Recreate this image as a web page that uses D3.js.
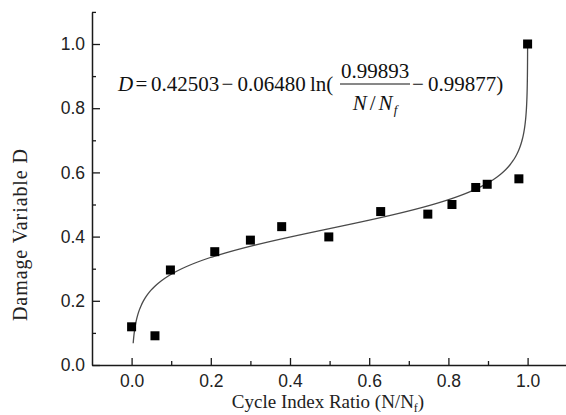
<!DOCTYPE html>
<html>
<head>
<meta charset="utf-8">
<script src="https://cdn.jsdelivr.net/npm/d3@7"></script>
<style>
  html, body { margin: 0; padding: 0; background: #fff; }
  svg { display: block; }
</style>
</head>
<body>
<svg id="chart" width="566" height="415"></svg>
<script>
// Measured cycle-ratio / damage pairs
const cycleRatio = [0.0, 0.059, 0.098, 0.21, 0.30, 0.379, 0.498, 0.629, 0.748, 0.809, 0.869, 0.898, 0.978, 1.0];
const damage     = [0.119, 0.091, 0.296, 0.353, 0.389, 0.431, 0.399, 0.478, 0.470, 0.500, 0.553, 0.563, 0.580, 1.0];

// Fitted model D = a - b * ln(c / (N/Nf) - d), coefficients as printed
const fitA = 0.42503;
const fitB = 0.06480;
const fitC = 0.99893;
const fitD = 0.99877;

const xMajorTicks = [0.0, 0.2, 0.4, 0.6, 0.8, 1.0];
const xMinorTicks = [0.1, 0.3, 0.5, 0.7, 0.9];
const yMajorTicks = [0.0, 0.2, 0.4, 0.6, 0.8, 1.0];
const yMinorTicks = [0.1, 0.3, 0.5, 0.7, 0.9, 1.1];

const svg = d3.select("#chart");
const plotLeft = 92, plotRight = 567.2, plotTop = 11.9, plotBottom = 365;

const x = d3.scaleLinear().domain([-0.1, 1.1]).range([plotLeft, plotRight]);
const y = d3.scaleLinear().domain([0, 1.1]).range([plotBottom, plotTop]);

const axisColor = "#1a1a1a";
const fmt = d3.format(".1f");

// X axis: minor ticks first, then labelled major ticks
const gxMinor = svg.append("g").attr("transform", `translate(0,${plotBottom})`)
  .call(d3.axisBottom(x).tickValues(xMinorTicks).tickSizeInner(-4).tickSizeOuter(0).tickFormat(""));
const gx = svg.append("g").attr("transform", `translate(0,${plotBottom})`)
  .call(d3.axisBottom(x).tickValues(xMajorTicks).tickSizeInner(-7).tickSizeOuter(0)
    .tickPadding(10).tickFormat(fmt));

const gyMinor = svg.append("g").attr("transform", `translate(${plotLeft},0)`)
  .call(d3.axisLeft(y).tickValues(yMinorTicks).tickSizeInner(-4).tickSizeOuter(0).tickFormat(""));
const gy = svg.append("g").attr("transform", `translate(${plotLeft},0)`)
  .call(d3.axisLeft(y).tickValues(yMajorTicks).tickSizeInner(-8).tickSizeOuter(0)
    .tickPadding(7).tickFormat(fmt));

[gxMinor, gx, gyMinor, gy].forEach(g => {
  g.selectAll("path.domain").attr("stroke", axisColor).attr("stroke-width", 1.5);
  g.selectAll(".tick line").attr("stroke", axisColor).attr("stroke-width", 1.3);
  g.selectAll(".tick text")
    .attr("fill", "#222")
    .style("font-family", "'Liberation Sans', Arial, sans-serif")
    .style("font-size", "17.5px");
});
gxMinor.selectAll("path.domain").remove();
gyMinor.selectAll("path.domain").remove();

// Fitted curve, traced by solving the model for N/Nf at each damage level
const dStart = fitA - fitB * Math.log(fitC / 0.004 - fitD);
const curveD = d3.range(0, 601).map(i => dStart + (1.0 - dStart) * i / 600);
const curvePts = curveD.map(dv => [fitC / (Math.exp((fitA - dv) / fitB) + fitD), dv]);

svg.append("path")
  .datum(curvePts)
  .attr("fill", "none")
  .attr("stroke", "#4a4a4a")
  .attr("stroke-width", 1.3)
  .attr("d", d3.line().x(d => x(d[0])).y(d => y(d[1])));

// Measured points as filled squares
const sq = 9;
svg.append("g").selectAll("rect")
  .data(cycleRatio.map((v, i) => [v, damage[i]]))
  .join("rect")
  .attr("x", d => x(d[0]) - sq / 2)
  .attr("y", d => y(d[1]) - sq / 2)
  .attr("width", sq)
  .attr("height", sq)
  .attr("fill", "#000");

// Axis titles
const serif = "'Liberation Serif', 'Times New Roman', serif";
const xTitle = svg.append("text")
  .attr("x", 328).attr("y", 408)
  .attr("text-anchor", "middle")
  .style("font-family", serif).style("font-size", "19px").attr("fill", "#222");
xTitle.append("tspan").text("Cycle Index Ratio (N/N");
xTitle.append("tspan").attr("dy", 4).style("font-size", "12px").text("f");
xTitle.append("tspan").attr("dy", -4).text(")");

svg.append("text")
  .attr("transform", "translate(27,235) rotate(-90)")
  .attr("text-anchor", "middle")
  .attr("textLength", 172).attr("lengthAdjust", "spacing")
  .style("font-family", serif).style("font-size", "20px").attr("fill", "#222")
  .text("Damage Variable D");

// Fitted equation
const eq = svg.append("g")
  .style("font-family", serif).style("font-size", "21px").attr("fill", "#111");
const base = 91;
eq.append("text").attr("x", 118).attr("y", base).style("font-style", "italic").text("D");
eq.append("text").attr("x", 135.5).attr("y", base).text("=");
eq.append("text").attr("x", 151).attr("y", base).text(fitA.toFixed(5));
eq.append("text").attr("x", 221.5).attr("y", base).text("\u2212");
eq.append("text").attr("x", 237.5).attr("y", base).text(fitB.toFixed(5));
eq.append("text").attr("x", 310).attr("y", base).text("ln(");
eq.append("text").attr("x", 375).attr("y", 78).attr("text-anchor", "middle").text(fitC.toFixed(5));
eq.append("line").attr("x1", 340).attr("x2", 410).attr("y1", 84).attr("y2", 84)
  .attr("stroke", "#111").attr("stroke-width", 1);
const den = eq.append("text").attr("x", 375).attr("y", 110)
  .attr("text-anchor", "middle").style("font-style", "italic");
den.append("tspan").text("N");
den.append("tspan").attr("dx", 3).style("font-style", "normal").text("/");
den.append("tspan").attr("dx", 3).text("N");
den.append("tspan").attr("dy", 4).attr("dx", 1).style("font-size", "13px").text("f");
eq.append("text").attr("x", 412).attr("y", base).text("\u2212");
eq.append("text").attr("x", 428).attr("y", base).text(fitD.toFixed(5) + ")");
</script>
</body>
</html>
